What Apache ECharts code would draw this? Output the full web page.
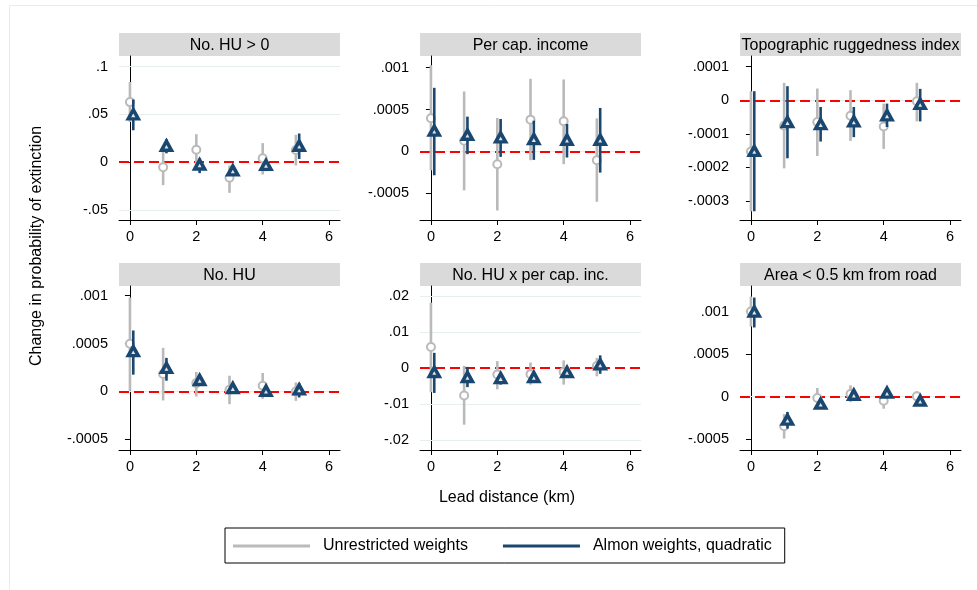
<!DOCTYPE html>
<html>
<head>
<meta charset="utf-8">
<script src="https://cdn.jsdelivr.net/npm/echarts@6/dist/echarts.min.js"></script>
<style>
  html, body { margin: 0; padding: 0; background: #fff; }
  #main { width: 977px; height: 590px; }
</style>
</head>
<body>
<div id="main"></div>
<script>
// lead distances (km)
const lags = [0, 1, 2, 3, 4, 5];
const xTicks = [0, 2, 4, 6];

// each row: [estimate, ci low, ci high]
const huPosUnr = [[0.0628, 0.042, 0.0838], [-0.0052, -0.024, 0.0138], [0.0131, -0.002, 0.0293],
                  [-0.0162, -0.032, -0.0034], [0.0041, -0.0128, 0.020], [0.0128, -0.0034, 0.0286]];
const huPosAlm = [[0.050, 0.0334, 0.0655], [0.0172, 0.0093, 0.024], [-0.0024, -0.0114, 0.004],
                  [-0.0086, -0.013, -0.0034], [-0.0028, -0.0093, 0.0024], [0.0172, 0.0034, 0.030]];

const incUnr = [[0.000396, -0.000224, 0.00103], [0.000128, -0.000464, 0.000716], [-0.000152, -0.000704, 0.0004],
                [0.00038, -0.000104, 0.000868], [0.00036, -0.000152, 0.00086], [-0.000104, -0.0006, 0.000396]];
const incAlm = [[0.000248, -0.000284, 0.00076], [0.0002, -0.000032, 0.000416], [0.000168, -0.000064, 0.000388],
                [0.000148, -0.0001, 0.000368], [0.00014, -0.000072, 0.000328], [0.00014, -0.000252, 0.00052]];

const truUnr = [[-0.000153, -0.000331, 0.000027], [-0.000076, -0.000203, 0.000052], [-0.000065, -0.000166, 0.000035],
                [-0.000046, -0.000121, 0.00003], [-0.000078, -0.000145, -0.00001], [-0.000003, -0.000063, 0.000052]];
const truAlm = [[-0.000151, -0.000331, 0.000027], [-0.000065, -0.000173, 0.000042], [-0.000071, -0.000123, -0.00002],
                [-0.000063, -0.00011, -0.00002], [-0.000045, -0.00008, -0.00001], [-0.000011, -0.000063, 0.000034]];

const huUnr = [[0.000497, 0.000007, 0.000979], [0.000182, -0.000094, 0.000455], [0.000087, -0.000052, 0.000203],
               [0.000017, -0.000133, 0.000164], [0.000059, -0.000077, 0.000192], [0.0, -0.000098, 0.000094]];
const huAlm = [[0.00042, 0.000175, 0.000636], [0.000245, 0.000112, 0.00035], [0.000119, 0.00007, 0.000157],
               [0.000035, -0.000007, 0.00007], [0.000007, -0.000035, 0.000052], [0.000021, -0.000063, 0.000087]];

const huIncUnr = [[0.00583, -0.0067, 0.0181], [-0.0076, -0.0157, 0.0006], [-0.0018, -0.0059, 0.0019],
                  [-0.0017, -0.0046, 0.0015], [-0.0011, -0.0046, 0.0021], [0.00056, -0.0023, 0.0028]];
const huIncAlm = [[-0.0011, -0.0069, 0.0042], [-0.0025, -0.0053, 0.0003], [-0.0028, -0.0046, -0.0013],
                  [-0.0025, -0.0041, -0.0011], [-0.0011, -0.0022, 0.0], [0.001, -0.0016, 0.0035]];

const roadUnr = [[0.001, 0.000824, 0.001176], [-0.000348, -0.000492, -0.000203], [-0.000016, -0.000055, 0.000102],
                 [0.000031, -0.000063, 0.000133], [-0.000047, -0.000141, 0.000023], [0.000004, -0.000055, 0.000063]];
const roadAlm = [[0.001, 0.000813, 0.001164], [-0.00027, -0.000375, -0.00018], [-0.000082, -0.000113, -0.000047],
                 [0.000023, -0.000008, 0.000063], [0.000047, 0.000016, 0.000082], [-0.000047, -0.000094, 0.000004]];

// y tick labels per panel
const huPosTicks = [-0.05, 0, 0.05, 0.1];
const incTicks = [-0.0005, 0, 0.0005, 0.001];
const truTicks = [-0.0003, -0.0002, -0.0001, 0, 0.0001];
const huTicks = [-0.0005, 0, 0.0005, 0.001];
const huIncTicks = [-0.02, -0.01, 0, 0.01, 0.02];
const roadTicks = [-0.0005, 0, 0.0005, 0.001];

const panels = [
  { title: 'No. HU > 0', unr: huPosUnr, alm: huPosAlm, ticks: huPosTicks, min: -0.0604, max: 0.111 },
  { title: 'Per cap. income', unr: incUnr, alm: incAlm, ticks: incTicks, min: -0.000818, max: 0.00114 },
  { title: 'Topographic ruggedness index', unr: truUnr, alm: truAlm, ticks: truTicks, min: -0.000357, max: 0.000132 },
  { title: 'No. HU', unr: huUnr, alm: huAlm, ticks: huTicks, min: -0.000611, max: 0.0011 },
  { title: 'No. HU x per cap. inc.', unr: huIncUnr, alm: huIncAlm, ticks: huIncTicks, min: -0.0227, max: 0.0227 },
  { title: 'Area < 0.5 km from road', unr: roadUnr, alm: roadAlm, ticks: roadTicks, min: -0.000626, max: 0.0013 }
];

const UNR = 'Unrestricted weights';
const ALM = 'Almon weights, quadratic';
const gray = '#bababa';
const navy = '#1a476f';
const FONT = 'Liberation Sans, Arial, sans-serif';

const colLeft = [119, 420, 740];
const rowTop = [56, 286];
const plotW = 221;
const plotH = [164, 164];
const barH = 23;
const almOffset = 0.1;

const fmt = v => String(v).replace(/^(-?)0\./, '$1.');

function ciSeries(name, rows, off, color, idx, extra) {
  return Object.assign({
    name: name,
    type: 'custom',
    xAxisIndex: idx,
    yAxisIndex: idx,
    itemStyle: { color: color },
    encode: { x: 0, y: [1, 2] },
    data: rows.map((r, i) => [lags[i] + off, r[1], r[2]]),
    renderItem: function (params, api) {
      const a = api.coord([api.value(0), api.value(1)]);
      const b = api.coord([api.value(0), api.value(2)]);
      return {
        type: 'line',
        shape: { x1: a[0], y1: a[1], x2: b[0], y2: b[1] },
        style: { stroke: color, lineWidth: 2.6 }
      };
    },
    z: 2
  }, extra || {});
}

const grids = [], xAxes = [], yAxes = [], series = [], graphics = [];

panels.forEach((p, i) => {
  const col = i % 3, row = Math.floor(i / 3);
  const left = colLeft[col], top = rowTop[row], h = plotH[row];
  grids.push({ left: left, top: top, width: plotW, height: h });
  xAxes.push({
    type: 'value', gridIndex: i, min: -0.33, max: 6.33,
    axisLine: { onZero: false, lineStyle: { color: '#000', width: 1 } },
    axisTick: { customValues: xTicks, length: 5, lineStyle: { color: '#000' } },
    axisLabel: { customValues: xTicks, color: '#000', fontSize: 14.5, fontFamily: FONT, margin: 9 },
    splitLine: { show: false }
  });
  yAxes.push({
    type: 'value', gridIndex: i, min: p.min, max: p.max,
    axisLine: { show: true, lineStyle: { color: '#000', width: 1 } },
    axisTick: { show: true, customValues: p.ticks, length: 5, lineStyle: { color: '#000' } },
    axisLabel: { customValues: p.ticks, color: '#000', fontSize: 14.5, fontFamily: FONT, margin: 11, formatter: fmt },
    splitLine: { show: false }
  });

  const gridLines = p.ticks.filter(t => t !== 0).map(t => ({ yAxis: t, lineStyle: { color: '#e6eef0', width: 1, type: 'solid' } }));
  gridLines.push({ yAxis: 0, lineStyle: { color: '#ff0000', width: 2, type: [10, 5] } });

  series.push(ciSeries(UNR, p.unr, 0, gray, i, {
    markLine: { silent: true, symbol: 'none', z: 1, label: { show: false }, data: gridLines }
  }));
  series.push({
    type: 'scatter', xAxisIndex: i, yAxisIndex: i, z: 3,
    symbol: 'circle', symbolSize: 8,
    itemStyle: { color: '#fff', borderColor: gray, borderWidth: 2, opacity: 1 },
    data: p.unr.map((r, k) => [lags[k], r[0]])
  });
  series.push(ciSeries(ALM, p.alm, almOffset, navy, i, { z: 4 }));
  series.push({
    type: 'scatter', xAxisIndex: i, yAxisIndex: i, z: 5,
    symbol: 'triangle', symbolSize: [10, 9],
    itemStyle: { color: '#dfe6ec', borderColor: navy, borderWidth: 3.5, opacity: 1 },
    data: p.alm.map((r, k) => [lags[k] + almOffset, r[0]])
  });

  graphics.push({
    type: 'rect', shape: { x: left, y: top - barH, width: plotW, height: barH },
    style: { fill: '#dadada' }, silent: true
  });
  graphics.push({
    type: 'text', x: left + plotW / 2, y: top - barH / 2 + 1,
    style: { text: p.title, fill: '#000', font: '16px ' + FONT, align: 'center', verticalAlign: 'middle' },
    silent: true
  });
});

// outer frame
graphics.push({
  type: 'rect', shape: { x: 9.5, y: 5.5, width: 1000, height: 700 },
  style: { fill: 'none', stroke: '#e6eded', lineWidth: 1 }, silent: true, z: -1
});
// axis titles
graphics.push({
  type: 'text', x: 507, y: 498,
  style: { text: 'Lead distance (km)', fill: '#000', font: '16px ' + FONT, align: 'center', verticalAlign: 'middle' },
  silent: true
});
graphics.push({
  type: 'text', x: 37, y: 246, rotation: Math.PI / 2,
  style: { text: 'Change in probability of extinction', fill: '#000', font: '16px ' + FONT, align: 'center', verticalAlign: 'middle' },
  silent: true
});

const chart = echarts.init(document.getElementById('main'), null, { renderer: 'canvas' });
chart.setOption({
  animation: false,
  backgroundColor: '#fff',
  grid: grids,
  xAxis: xAxes,
  yAxis: yAxes,
  legend: {
    left: 225, top: 528,
    padding: [10, 13, 9, 8],
    borderColor: '#000', borderWidth: 1,
    itemWidth: 77, itemHeight: 3, itemGap: 35,
    icon: 'rect',
    selectedMode: false,
    textStyle: { fontSize: 16, fontFamily: FONT, color: '#000', padding: [0, 0, 0, 8] },
    data: [
      { name: UNR, itemStyle: { color: gray } },
      { name: ALM, itemStyle: { color: navy } }
    ]
  },
  graphic: graphics,
  series: series
});
</script>
</body>
</html>
